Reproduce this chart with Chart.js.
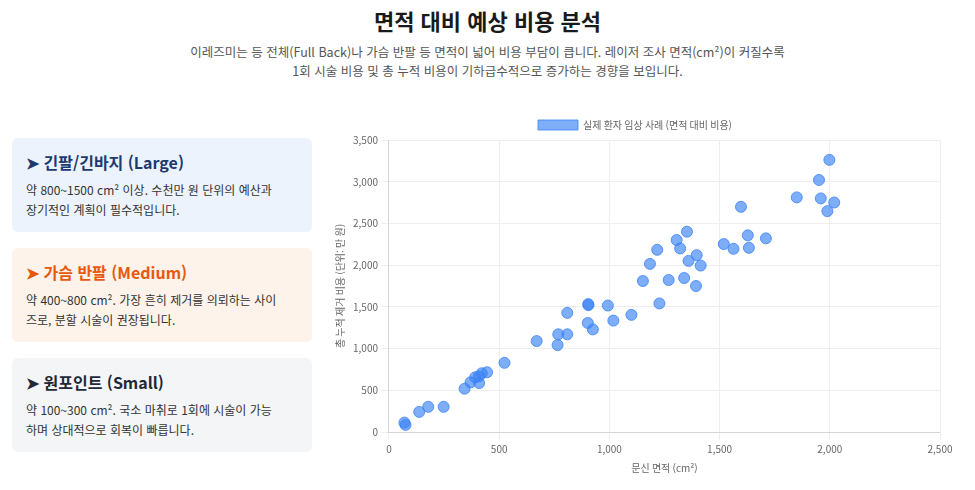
<!DOCTYPE html>
<html lang="ko">
<head>
<meta charset="UTF-8">
<title>면적 대비 예상 비용 분석</title>
<script src="https://cdn.jsdelivr.net/npm/chart.js"></script>
<style>
  body { margin: 0; background: #fff; font-family: "Noto Sans CJK KR", "Noto Sans", sans-serif; color: #222; }
  h1 { text-align: center; font-size: 22px; margin: 4px 0 6px; font-weight: 700; color: #1a1a1a; }
  .sub { text-align: center; font-size: 12.5px; color: #555; line-height: 19px; margin: 0; }
  .main { position: relative; height: 380px; margin-top: 30px; }
  .card { position: absolute; left: 12px; width: 300px; height: 94px; border-radius: 6px; box-sizing: border-box; padding: 12px 14px; }
  .card h3 { margin: 0 0 6px; font-size: 16px; font-weight: 700; }
  .card p { margin: 0; font-size: 12px; line-height: 20px; color: #333; }
  .c1 { top: 28px; background: #edf3fc; } .c1 h3 { color: #1e3a6e; }
  .c2 { top: 138px; background: #fdf3ea; } .c2 h3 { color: #e8590c; }
  .c3 { top: 248px; background: #f4f5f7; } .c3 h3 { color: #1f2937; }
  #wrap { position: absolute; left: 330px; top: 0; width: 630px; height: 376px; }
</style>
</head>
<body>
<h1>면적 대비 예상 비용 분석</h1>
<p class="sub">이레즈미는 등 전체(Full Back)나 가슴 반팔 등 면적이 넓어 비용 부담이 큽니다. 레이저 조사 면적(cm²)이 커질수록<br>1회 시술 비용 및 총 누적 비용이 기하급수적으로 증가하는 경향을 보입니다.</p>
<div class="main">
  <div class="card c1"><h3>➤ 긴팔/긴바지 (Large)</h3><p>약 800~1500 cm² 이상. 수천만 원 단위의 예산과<br>장기적인 계획이 필수적입니다.</p></div>
  <div class="card c2"><h3>➤ 가슴 반팔 (Medium)</h3><p>약 400~800 cm². 가장 흔히 제거를 의뢰하는 사이<br>즈로, 분할 시술이 권장됩니다.</p></div>
  <div class="card c3"><h3>➤ 원포인트 (Small)</h3><p>약 100~300 cm². 국소 마취로 1회에 시술이 가능<br>하며 상대적으로 회복이 빠릅니다.</p></div>
  <div id="wrap"><canvas id="c"></canvas></div>
</div>
<script>
const areas = [70,75,137,178,248,343,370,391,409,408,421,445,524,670,765,768,809,809,902,904,905,925,993,1018,1100,1152,1184,1217,1227,1269,1305,1321,1339,1352,1359,1393,1396,1414,1519,1563,1597,1628,1633,1710,1850,1951,1959,1989,1998,2020];
const costs = [113,85,241,302,302,519,595,656,587,668,704,716,829,1090,1042,1171,1171,1428,1307,1533,1520,1230,1516,1335,1404,1810,2015,2184,1541,1822,2301,2200,1846,2401,2051,1750,2120,1995,2253,2196,2699,2357,2208,2321,2812,3021,2800,2647,3262,2751];
const seriesLabel = '실제 환자 임상 사례 (면적 대비 비용)';

Chart.defaults.font.family = '"Noto Sans CJK KR", "Noto Sans", sans-serif';
Chart.defaults.font.size = 10;
Chart.defaults.color = '#666';
new Chart(document.getElementById('c'), {
  type: 'scatter',
  data: { datasets: [{
    label: seriesLabel,
    data: areas.map((a, i) => ({ x: a, y: costs[i] })),
    backgroundColor: 'rgba(59,130,246,0.65)',
    borderColor: 'rgba(59,130,246,0.8)',
    pointRadius: 5.5, pointHoverRadius: 7
  }]},
  options: {
    responsive: true, maintainAspectRatio: false, animation: false,
    layout: { padding: { right: 20, bottom: 8 } },
    plugins: { legend: { labels: { boxWidth: 40, boxHeight: 10 } } },
    scales: {
      x: { min: 0, max: 2500, ticks: { stepSize: 500 }, title: { display: true, text: '문신 면적 (cm²)' }, grid: { color: '#eee' } },
      y: { min: 0, max: 3500, ticks: { stepSize: 500 }, title: { display: true, text: '총 누적 제거 비용 (단위: 만 원)' }, grid: { color: '#eee' } }
    }
  }
});
</script>
</body>
</html>
